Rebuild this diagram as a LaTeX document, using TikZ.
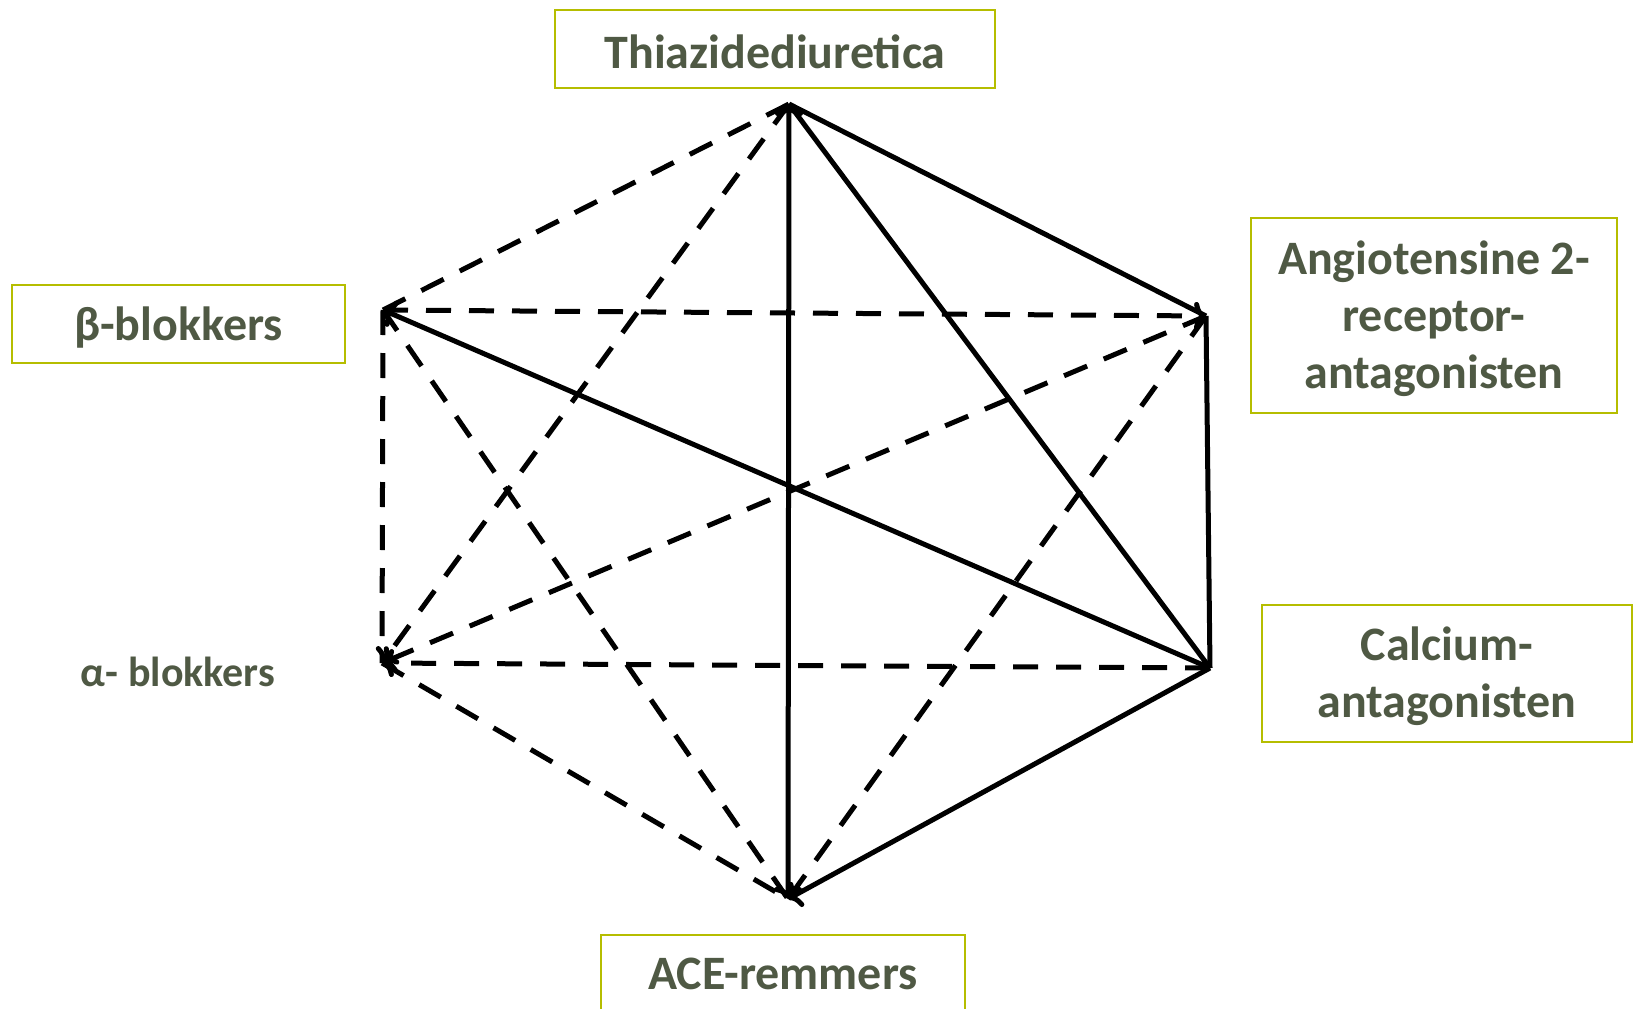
\documentclass[tikz,border=0pt]{standalone}
\usepackage{fontspec}
\setmainfont{Carlito}
\usetikzlibrary{arrows.meta}
\definecolor{labeltext}{RGB}{79,89,68}
\definecolor{boxline}{RGB}{181,189,0}
% lower a line of text without changing the size TeX reports for it
\newcommand{\lowered}[2]{\raisebox{-#1}[\height][\depth]{#2}}
\begin{document}
\begin{tikzpicture}[x=1pt,y=-1pt,
  label box/.style={draw=boxline,line width=2pt,fill=white,inner sep=0pt,
    text=labeltext,font=\fontsize{48}{57}\selectfont\bfseries,align=center},
  plain label/.style={inner sep=0pt,text=labeltext,
    font=\fontsize{42}{50}\selectfont\bfseries},
  link/.style={line width=5pt,black},
  dlink/.style={link,dash pattern=on 25pt off 18pt},
  tip/.style={-{To[length=12pt,width=28pt]}},
  tips/.style={{To[length=12pt,width=28pt]}-{To[length=12pt,width=28pt]}}]
\useasboundingbox (0,0) rectangle (1634,1009);

% corners of the hexagon
\coordinate (T)  at (789,104);
\coordinate (B)  at (383,310);
\coordinate (AR) at (1206,316);
\coordinate (A)  at (382,663);
\coordinate (C)  at (1210,668);
\coordinate (E)  at (788,899);

% dashed combinations
\draw[dlink] (B) -- (T);
\draw[dlink,tip] (T) -- (A);
\draw[dlink,tip] (B) -- (AR);
\draw[dlink] (B) -- (A);
\draw[dlink] (B) -- (E);
\draw[dlink,tip] (AR) -- (A);
\draw[dlink,tip] (C) -- (A);
\draw[dlink] (A) -- (E);
\draw[dlink] (AR) -- (E);

% solid combinations
\draw[link] (T) -- (AR);
\draw[link] (T) -- (C);
\draw[link,tips] (E) -- (T);
\draw[link] (AR) -- (C);
\draw[link,tip] (C) -- (E);
\draw[link,tip] (C) -- (B);

% drug classes
\node[label box,minimum width=440pt,minimum height=78pt] (thi) at (775,49) {\lowered{3pt}{Thiazidediuretica}};
\node[label box,minimum width=333pt,minimum height=78pt] (beta) at (178.5,324) {\lowered{4pt}{β-blokkers}};
\node[label box,minimum width=366pt,minimum height=195pt] (at2) at (1434,315.5) {\lowered{3pt}{Angiotensine 2-}\\\lowered{3pt}{receptor-}\\\lowered{3pt}{antagonisten}};
\node[label box,minimum width=370pt,minimum height=137pt] (ca) at (1447,673.5) {\lowered{3pt}{Calcium-}\\\lowered{3pt}{antagonisten}};
\node[label box,minimum width=364pt,minimum height=78pt] (ace) at (783,974) {ACE-remmers};
\node[plain label] (alpha) at (178,672) {α- blokkers};
\end{tikzpicture}
\end{document}
